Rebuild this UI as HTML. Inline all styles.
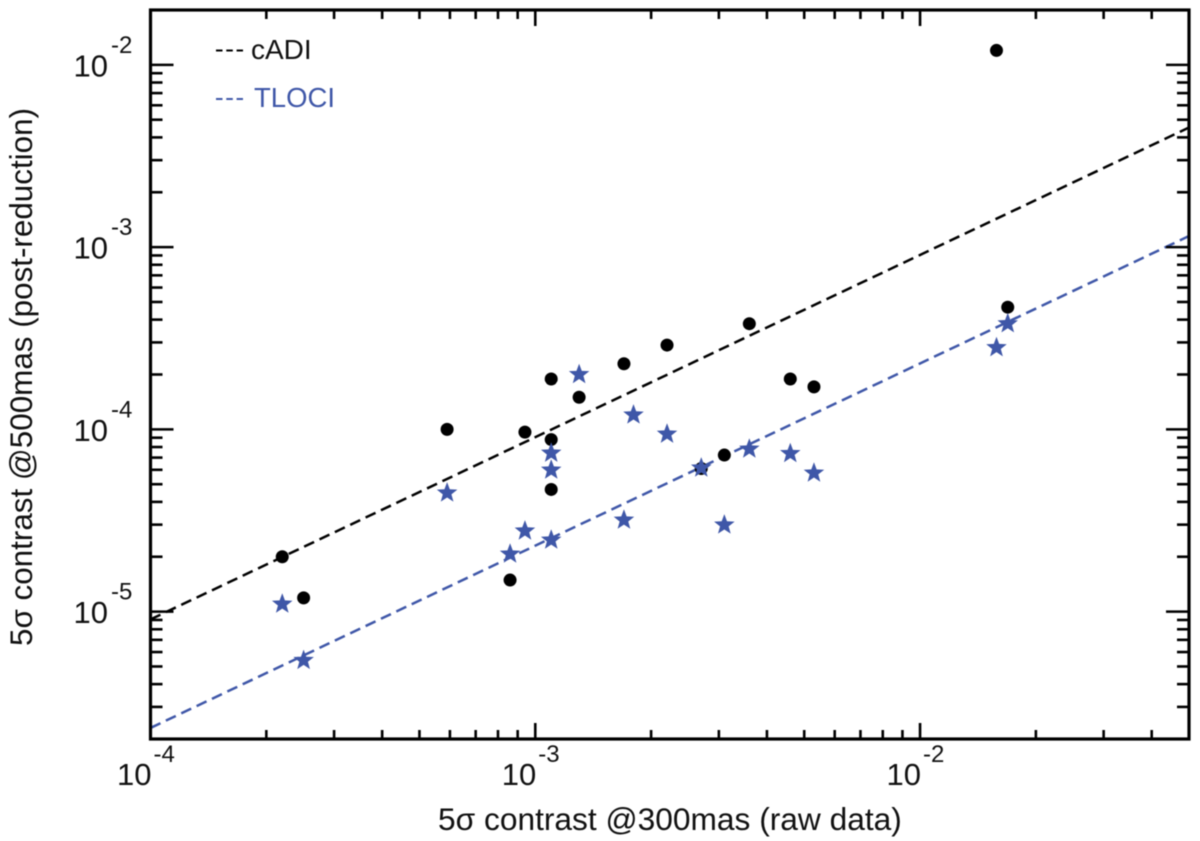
<!DOCTYPE html>
<html>
<head>
<meta charset="utf-8">
<title>Contrast scatter chart</title>
<style>
html,body{margin:0;padding:0;background:#fff;}
body{width:1200px;height:841px;overflow:hidden;}
svg{display:block;filter:blur(0.45px);}
text{font-family:"Liberation Sans",Arial,sans-serif;fill:#111;}
</style>
</head>
<body>
<svg id="chart" xmlns="http://www.w3.org/2000/svg" width="1200" height="841" viewBox="0 0 1200 841">
  <rect x="0" y="0" width="1200" height="841" fill="#fff"/>
  <g id="fits"></g>
  <g id="marks"></g>
  <g id="ticks"></g>
  <rect x="150.5" y="10" width="1038.5" height="729" fill="none" stroke="#000" stroke-width="3.2"/>
  <g id="labels"></g>
  <text x="438" y="830" font-size="31.7">5σ contrast @300mas (raw data)</text>
  <text transform="translate(32,646) rotate(-90)" font-size="31.4">5σ contrast @500mas (post-reduction)</text>
  <g>
    <line x1="216" y1="50.5" x2="243" y2="50.5" stroke="#000" stroke-width="2" stroke-dasharray="6.5 3.8"/>
    <text x="251" y="59" font-size="28">cADI</text>
    <line x1="216" y1="99" x2="243" y2="99" stroke="#3f57a8" stroke-width="2" stroke-dasharray="6.5 3.8"/>
    <text x="254" y="107" font-size="27.5" style="fill:#3f57a8">TLOCI</text>
  </g>
</svg>
<script>
// Chart data
const cadiRaw = [2.2e-4, 2.5e-4, 5.9e-4, 8.6e-4, 9.4e-4, 1.1e-3, 1.1e-3, 1.1e-3, 1.3e-3, 1.7e-3, 2.2e-3, 2.7e-3, 3.1e-3, 3.6e-3, 4.6e-3, 5.3e-3, 1.58e-2, 1.69e-2];
const cadiPost = [2.0e-5, 1.19e-5, 1.0e-4, 1.49e-5, 9.66e-5, 1.89e-4, 8.79e-5, 4.68e-5, 1.5e-4, 2.29e-4, 2.9e-4, 6.1e-5, 7.23e-5, 3.8e-4, 1.89e-4, 1.71e-4, 1.2e-2, 4.68e-4];
const tlociRaw = [2.2e-4, 2.5e-4, 5.9e-4, 8.6e-4, 9.4e-4, 1.1e-3, 1.1e-3, 1.1e-3, 1.3e-3, 1.8e-3, 1.7e-3, 2.2e-3, 2.7e-3, 3.1e-3, 3.6e-3, 4.6e-3, 5.3e-3, 1.58e-2, 1.69e-2];
const tlociPost = [1.1e-5, 5.4e-6, 4.48e-5, 2.07e-5, 2.77e-5, 7.41e-5, 5.98e-5, 2.47e-5, 2.0e-4, 1.2e-4, 3.18e-5, 9.42e-5, 6.14e-5, 2.99e-5, 7.8e-5, 7.37e-5, 5.76e-5, 2.81e-4, 3.8e-4];
const fitRawEnds = [1e-4, 5e-2];
const cadiFitPost = [9.06e-6, 4.53e-3];
const tlociFitPost = [2.3e-6, 1.15e-3];
const xTickExponents = [-4, -3, -2];
const yTickExponents = [-5, -4, -3, -2];
const xDomain = [1e-4, 5e-2];
const yDomain = [2e-6, 2e-2];
const minorMultipliers = [2, 3, 4, 5, 6, 7, 8, 9];

// Axis functions
const NS = 'http://www.w3.org/2000/svg';
const PLOT = {left: 150.5, right: 1189, top: 10, bottom: 739};
function xScale(v) {
  const t = (Math.log10(v) - Math.log10(xDomain[0])) / (Math.log10(xDomain[1]) - Math.log10(xDomain[0]));
  return PLOT.left + t * (PLOT.right - PLOT.left);
}
function yScale(v) {
  const t = (Math.log10(v) - Math.log10(yDomain[0])) / (Math.log10(yDomain[1]) - Math.log10(yDomain[0]));
  return PLOT.bottom - t * (PLOT.bottom - PLOT.top);
}
function make(tag, attrs, parent) {
  const el = document.createElementNS(NS, tag);
  for (const k in attrs) el.setAttribute(k, attrs[k]);
  parent.appendChild(el);
  return el;
}

const BLUE = '#3f57a8';
const fitsG = document.getElementById('fits');
const marksG = document.getElementById('marks');
const ticksG = document.getElementById('ticks');
const labelsG = document.getElementById('labels');

// Fit lines
function drawFit(postEnds, color, name) {
  const line = make('line', {
    x1: xScale(fitRawEnds[0]), y1: yScale(postEnds[0]),
    x2: xScale(fitRawEnds[1]), y2: yScale(postEnds[1]),
    stroke: color, 'stroke-width': 2.5, 'stroke-dasharray': '11 6'
  }, fitsG);
  
  
}
drawFit(cadiFitPost, '#000', 'cadi-fit-line');
drawFit(tlociFitPost, BLUE, 'tloci-fit-line');

// Points
function starPoints(cx, cy, R) {
  const r = R * 0.42;
  const pts = [];
  for (let i = 0; i < 10; i++) {
    const a = -Math.PI / 2 + i * Math.PI / 5;
    const rad = i % 2 ? r : R;
    pts.push((cx + rad * Math.cos(a)).toFixed(2) + ',' + (cy + rad * Math.sin(a)).toFixed(2));
  }
  return pts.join(' ');
}
cadiRaw.forEach(function (v, i) {
  const c = make('circle', {cx: xScale(v), cy: yScale(cadiPost[i]), r: 6.5, fill: '#000'}, marksG);
  
  
});
tlociRaw.forEach(function (v, i) {
  const s = make('polygon', {points: starPoints(xScale(v), yScale(tlociPost[i]), 10.8), fill: BLUE}, marksG);
  
  
});

// Ticks
function tickLine(x1, y1, x2, y2, name) {
  const t = make('line', {x1: x1, y1: y1, x2: x2, y2: y2, stroke: '#000', 'stroke-width': 2.6}, ticksG);
  
  
}
function xTicks(v, major) {
  const x = xScale(v);
  if (x <= PLOT.left + 1 || x >= PLOT.right - 1) return;
  const len = major ? 16 : 9;
  tickLine(x, PLOT.bottom, x, PLOT.bottom - len, major ? 'x-major-tick' : 'x-minor-tick');
  tickLine(x, PLOT.top, x, PLOT.top + len, major ? 'x-major-tick-top' : 'x-minor-tick-top');
}
function yTicks(v, major) {
  const y = yScale(v);
  if (y <= PLOT.top + 1 || y >= PLOT.bottom - 1) return;
  const len = major ? 23 : 12;
  tickLine(PLOT.left, y, PLOT.left + len, y, major ? 'y-major-tick' : 'y-minor-tick');
  tickLine(PLOT.right, y, PLOT.right - len, y, major ? 'y-major-tick-right' : 'y-minor-tick-right');
}
xTickExponents.forEach(function (e) {
  xTicks(Math.pow(10, e), true);
  minorMultipliers.forEach(function (m) {
    const v = m * Math.pow(10, e);
    if (v <= xDomain[1]) xTicks(v, false);
  });
});
[-6].concat(yTickExponents).forEach(function (e) {
  if (e > -6) yTicks(Math.pow(10, e), true);
  minorMultipliers.forEach(function (m) {
    const v = m * Math.pow(10, e);
    if (v >= yDomain[0] && v <= yDomain[1]) yTicks(v, false);
  });
});

// Tick labels
function powerLabel(xBase, yBase, xExp, yExp, e, name) {
  const base = make('text', {x: xBase, y: yBase, 'font-size': 31}, labelsG);
  base.textContent = '10';
  
  
  const exp = make('text', {x: xExp, y: yExp, 'font-size': 24}, labelsG);
  exp.textContent = String(e);
  
  
}
xTickExponents.forEach(function (e) {
  const x = xScale(Math.pow(10, e));
  powerLabel(x - 33.5, 785, x + 3, 762, e, 'x-tick-label');
});
yTickExponents.forEach(function (e) {
  const y = yScale(Math.pow(10, e));
  powerLabel(73.5, y + 11.5, 111, y - 12, e, 'y-tick-label');
});
</script>
</body>
</html>
